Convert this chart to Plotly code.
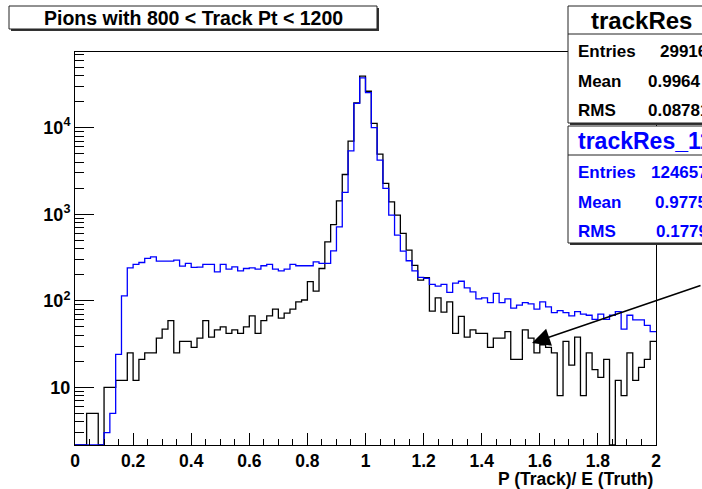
import numpy as np
import plotly.graph_objects as go

# ---------------- data ----------------
x_lo, x_hi, n_bins = 0.0, 2.0, 100

# black histogram "trackRes" (bin contents, 100 bins from 0 to 2)
track_res = [
    0, 0, 5, 5, 0, 10, 10, 12, 12, 25,
    12, 21, 25, 25, 37, 47, 59, 25, 34, 34,
    29, 37, 59, 38, 46, 50, 42, 46, 42, 50,
    67, 42, 59, 67, 80, 63, 72, 80, 97, 102,
    166, 129, 236, 480, 760, 1425, 2880, 6980, 19400, 39400,
    26400, 11200, 4950, 2270, 1390, 975, 600, 385, 256, 173,
    185, 76, 108, 74, 97, 42, 66, 38, 46, 42,
    42, 29, 37, 37, 44, 21, 21, 46, 37, 25,
    31, 29, 25, 8, 34, 18, 38, 8, 25, 16,
    13, 21, 0, 12, 8, 25, 12, 17, 21, 34,
]

# blue histogram "trackRes_11"
track_res_11 = [
    0, 0, 0, 0, 0, 3, 5, 24, 114, 240,
    263, 277, 309, 322, 287, 287, 287, 295, 252, 270,
    243, 245, 263, 263, 216, 263, 232, 247, 222, 236,
    240, 232, 254, 263, 232, 222, 232, 263, 254, 254,
    254, 282, 270, 270, 378, 716, 1790, 5400, 19100, 37600,
    25500, 10000, 4220, 1990, 975, 574, 375, 290, 222, 186,
    181, 155, 148, 155, 125, 160, 168, 141, 127, 105,
    108, 95, 122, 95, 105, 82, 89, 95, 92, 80,
    97, 85, 73, 77, 73, 67, 75, 70, 68, 61,
    70, 61, 68, 75, 47, 68, 60, 60, 52, 44,
]

y_tick_vals = [10, 100, 1000, 10000]
y_tick_text = ["10", "10<sup>2</sup>", "10<sup>3</sup>", "10<sup>4</sup>"]

title_text = "Pions with 800 < Track Pt < 1200"
x_title = "P (Track)/ E (Truth)"

stats_black = {"name": "trackRes", "Entries": "29916", "Mean": "0.9964", "RMS": "0.08781"}
stats_blue = {"name": "trackRes_11", "Entries": "124657", "Mean": "0.9775", "RMS": "0.1779"}

# ---------------- layout geometry ----------------
W, H = 702, 489
L, R, T, B = 75, 656, 52, 445
y_log_range = [0.333, 4.875]
FONT = "Liberation Sans, Arial, Helvetica, sans-serif"


def px(xp):
    return (xp - L) / (R - L)


def py(yp):
    return (B - yp) / (B - T)


edges = np.linspace(x_lo, x_hi, n_bins + 1)
y_floor = 10 ** y_log_range[0]


def step_y(vals):
    v = np.asarray(vals, dtype=float)
    v = np.where(v > 0, v, y_floor)
    return np.append(v, v[-1])


fig = go.Figure()
fig.add_trace(go.Scatter(x=edges, y=step_y(track_res), mode="lines",
                         line=dict(color="#000000", width=1.3, shape="hv"),
                         showlegend=False, hoverinfo="skip"))
fig.add_trace(go.Scatter(x=edges, y=step_y(track_res_11), mode="lines",
                         line=dict(color="#0000ff", width=1.3, shape="hv"),
                         showlegend=False, hoverinfo="skip"))

minor_y = [m * 10 ** e for e in range(0, 5) for m in range(2, 10)]

fig.update_layout(
    width=W, height=H,
    margin=dict(l=L, r=W - R, t=T, b=H - B, pad=0),
    paper_bgcolor="white", plot_bgcolor="white",
    font=dict(family=FONT, size=18, color="black", weight="bold"),
    xaxis=dict(range=[x_lo, x_hi], showgrid=False, zeroline=False,
               showline=True, mirror=True, linecolor="black", linewidth=1,
               ticks="inside", ticklen=12, tickwidth=1, tickcolor="black",
               tick0=0, dtick=0.2,
               minor=dict(ticks="inside", ticklen=6, tickwidth=1, tickcolor="black",
                          tick0=0, dtick=0.05),
               tickfont=dict(family=FONT, size=17.5, color="black", weight="bold")),
    yaxis=dict(type="log", range=y_log_range, showgrid=False, zeroline=False,
               showline=True, mirror=True, linecolor="black", linewidth=1,
               ticks="inside", ticklen=19, tickwidth=1, tickcolor="black",
               tickmode="array", tickvals=y_tick_vals, ticktext=y_tick_text,
               minor=dict(ticks="inside", ticklen=9, tickwidth=1, tickcolor="black",
                          tickmode="array", tickvals=minor_y),
               tickfont=dict(family=FONT, size=18, color="black", weight="bold")),
)

shapes = []
annots = []


def box(x0, y0, x1, y1, shadow=2):
    shapes.append(dict(type="rect", xref="paper", yref="paper",
                       x0=px(x0 + shadow), x1=px(x1 + shadow),
                       y0=py(y1 + shadow), y1=py(y0 + shadow),
                       line=dict(width=0), fillcolor="#333333", layer="above"))
    shapes.append(dict(type="rect", xref="paper", yref="paper",
                       x0=px(x0), x1=px(x1), y0=py(y1), y1=py(y0),
                       line=dict(color="#222222", width=1), fillcolor="white", layer="above"))


def hline(x0, x1, y):
    shapes.append(dict(type="line", xref="paper", yref="paper",
                       x0=px(x0), x1=px(x1), y0=py(y), y1=py(y),
                       line=dict(color="#222222", width=1), layer="above"))


def text(s, x, y, size, color="black", xanchor="left"):
    annots.append(dict(text=s, xref="paper", yref="paper", x=px(x), y=py(y),
                       xanchor=xanchor, yanchor="middle", showarrow=False,
                       font=dict(family=FONT, size=size, color=color, weight="bold")))


# title box
box(9, 6, 377, 29, shadow=2)
text(title_text, 193, 17.5, 19.5, xanchor="center")

# stats boxes
box(568, 6, 725, 123, shadow=2)
hline(568, 725, 34)
text(stats_black["name"], 641, 21, 24, xanchor="center")
text("Entries", 576, 51, 17)
text(stats_black["Entries"], 658, 51, 17)
text("Mean", 576, 81, 17)
text(stats_black["Mean"], 646, 81, 17)
text("RMS", 576, 110, 17)
text(stats_black["RMS"], 646, 110, 17)

box(568, 126, 725, 243, shadow=2)
hline(568, 725, 155)
blue = "#0000ff"
text(stats_blue["name"], 576, 141, 23, color=blue)
text("Entries", 576, 172, 17, color=blue)
text(stats_blue["Entries"], 649, 172, 17, color=blue)
text("Mean", 576, 202, 17, color=blue)
text(stats_blue["Mean"], 653, 202, 17, color=blue)
text("RMS", 576, 231, 17, color=blue)
text(stats_blue["RMS"], 654, 231, 17, color=blue)

# x axis title
text(x_title, 655, 479, 17.5, xanchor="right")

# arrow
annots.append(dict(text="", xref="paper", yref="paper", x=px(532), y=py(343),
                   ax=180, ay=-58, showarrow=True, arrowhead=2, arrowsize=2.4,
                   arrowwidth=1.5, arrowcolor="black"))

fig.update_layout(shapes=shapes, annotations=annots)
fig.write_html("out.html")
